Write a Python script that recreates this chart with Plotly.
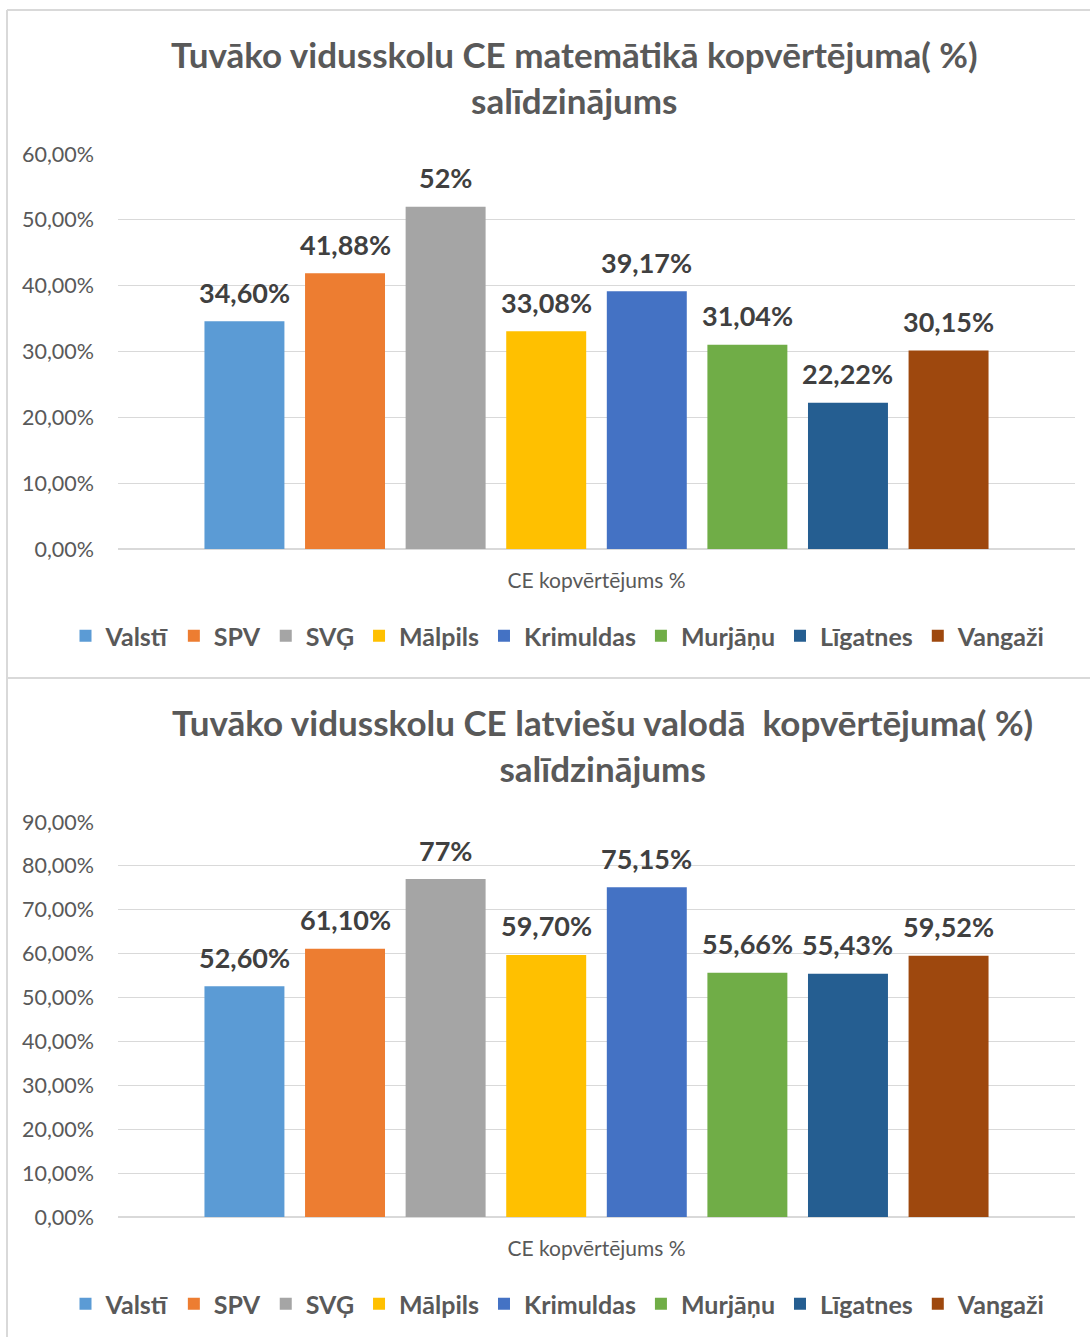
import plotly.graph_objects as go

W, H = 1090, 1337

schools = ["Valstī", "SPV", "SVĢ", "Mālpils", "Krimuldas", "Murjāņu", "Līgatnes", "Vangaži"]
colors = ["#5B9BD5", "#ED7D31", "#A5A5A5", "#FFC000", "#4472C4", "#70AD47", "#255E91", "#9E480E"]
axis_label = "CE kopvērtējums %"

math_values = [0.346, 0.4188, 0.52, 0.3308, 0.3917, 0.3104, 0.2222, 0.3015]
math_labels = ["34,60%", "41,88%", "52%", "33,08%", "39,17%", "31,04%", "22,22%", "30,15%"]

latv_values = [0.526, 0.611, 0.77, 0.597, 0.7515, 0.5566, 0.5543, 0.5952]
latv_labels = ["52,60%", "61,10%", "77%", "59,70%", "75,15%", "55,66%", "55,43%", "59,52%"]

title1 = "Tuvāko vidusskolu CE matemātikā kopvērtējuma( %)<br>salīdzinājums"
title2 = "Tuvāko vidusskolu CE latviešu valodā&nbsp;&nbsp;kopvērtējuma( %)<br>salīdzinājums"

FONT = "Lato"
GRID = "#d9d9d9"
TXT = "#595959"
LBL = "#404040"


def px(x):
    return x / W


def py(y):
    return 1 - y / H


fig = go.Figure()

charts = [
    (math_values, math_labels, "x", "y", "legend"),
    (latv_values, latv_labels, "x2", "y2", "legend2"),
]
for values, labels, xa, ya, leg in charts:
    for name, col, v, t in zip(schools, colors, values, labels):
        fig.add_trace(go.Bar(
            x=[name], y=[v], name=name,
            marker=dict(color=col, line=dict(width=0)),
            xaxis=xa, yaxis=ya, legend=leg, hoverinfo="skip",
        ))
        fig.add_annotation(
            x=name, y=v, xref=xa, yref=ya, text=t, showarrow=False,
            xanchor="center", yanchor="middle", yshift=29,
            font=dict(family=FONT, size=27, color=LBL, weight="bold"),
        )

xdom = [px(118), px(1075)]
# category pitch of ~100.6 px centred on the plot area
xrange = [3.5 - 4.757, 3.5 + 4.757]

yax_common = dict(
    tickformat=".2%", showgrid=True, gridcolor=GRID, gridwidth=1,
    zeroline=True, zerolinecolor=GRID, zerolinewidth=1.5,
    tickfont=dict(family=FONT, size=21.5, color=TXT), ticks="", showline=False,
    ticklabelstandoff=23, automargin=False, fixedrange=True,
)
xax_common = dict(
    showgrid=False, showline=False, ticks="", zeroline=False, showticklabels=False,
    range=xrange, automargin=False, fixedrange=True,
    title=dict(text=axis_label, font=dict(family=FONT, size=21, color=TXT), standoff=24),
)

leg_common = dict(
    orientation="h", xanchor="center", yanchor="middle",
    font=dict(family=FONT, size=25, color=TXT, weight="bold"), bgcolor="rgba(0,0,0,0)",
    itemwidth=30, tracegroupgap=0, itemclick=False, itemdoubleclick=False,
)

fig.update_layout(
    width=W, height=H, autosize=False,
    margin=dict(l=0, r=0, t=0, b=0, pad=0, autoexpand=False),
    paper_bgcolor="white", plot_bgcolor="white",
    separators=", ",
    barmode="overlay", bargap=0.205,
    xaxis=dict(domain=xdom, anchor="y", **xax_common),
    yaxis=dict(domain=[py(549), py(154)], range=[0, 0.6], dtick=0.1, anchor="x", **yax_common),
    xaxis2=dict(domain=xdom, anchor="y2", **xax_common),
    yaxis2=dict(domain=[py(1217), py(822)], range=[0, 0.9], dtick=0.1, anchor="x2", **yax_common),
    legend=dict(x=px(558), y=py(636), **leg_common),
    legend2=dict(x=px(558), y=py(1304), **leg_common),
    showlegend=True,
)

fig.add_annotation(text=title1, x=px(575), y=py(77), xref="paper", yref="paper",
                   showarrow=False, xanchor="center", yanchor="middle",
                   font=dict(family=FONT, size=35, color=TXT, weight="bold"))
fig.add_annotation(text=title2, x=px(602), y=py(745), xref="paper", yref="paper",
                   showarrow=False, xanchor="center", yanchor="middle",
                   font=dict(family=FONT, size=35, color=TXT, weight="bold"))

# chart borders
border = dict(color=GRID, width=2)
fig.add_shape(type="line", xref="paper", yref="paper", x0=px(7), x1=1, y0=py(10), y1=py(10), line=border)
fig.add_shape(type="line", xref="paper", yref="paper", x0=px(7), x1=px(7), y0=py(10), y1=0, line=border)
fig.add_shape(type="line", xref="paper", yref="paper", x0=px(7), x1=1, y0=py(678), y1=py(678), line=border)

fig.write_html(
    "out.html",
    config={"displayModeBar": False},
    post_script="document.body.style.margin='0';document.body.style.overflow='hidden';",
)
